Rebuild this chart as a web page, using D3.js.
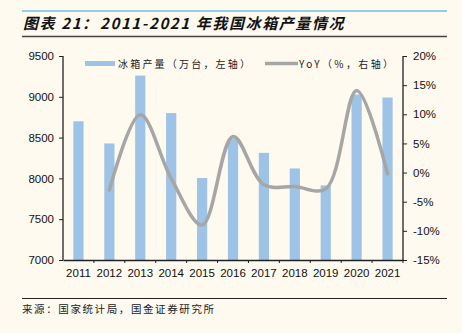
<!DOCTYPE html>
<html><head><meta charset="utf-8">
<script src="https://cdn.jsdelivr.net/npm/d3@7"></script>
<style>
body{margin:0;background:#FEFAF0;}
svg{display:block;}
</style></head>
<body><svg id="c" width="462" height="333"></svg>
<script>
const years = ["2011","2012","2013","2014","2015","2016","2017","2018","2019","2020","2021"];
const production = [8700, 8428, 9260, 8800, 8005, 8490, 8313, 8122, 7914, 9028, 8991];
const yoyYears = ["2012","2013","2014","2015","2016","2017","2018","2019","2020","2021"];
const yoy = [-3.0, 9.9, -1.0, -9.0, 6.2, -2.1, -2.4, -2.8, 14.1, -0.2];
const leftTicks = [7000, 7500, 8000, 8500, 9000, 9500];
const rightTicks = [-15, -10, -5, 0, 5, 10, 15, 20];
const titlePrefix = "图表 21：";
const titleMain = "2011-2021 年我国冰箱产量情况";
const legendBar = "冰箱产量（万台，左轴）";
const legendLine = "YoY（%，右轴）";
const sourceText = "来源：国家统计局，国金证券研究所";

const svg = d3.select("#c");
const font = "'Liberation Sans', Arial, sans-serif";
const cjk = "'Noto Sans CJK SC', sans-serif";

// header lines and title
svg.append("line").attr("x1",22).attr("x2",447).attr("y1",11).attr("y2",11).attr("stroke","#2AA0E0").attr("stroke-width",1);
const tt = svg.append("text").attr("x",23).attr("y",28.5)
  .attr("font-family",cjk).attr("font-size",15).attr("font-weight","bold").attr("font-style","italic").attr("fill","#111").attr("letter-spacing",1.6);
tt.append("tspan").text(titlePrefix);
tt.append("tspan").attr("x",100).text(titleMain);
svg.append("line").attr("x1",22).attr("x2",447).attr("y1",36.5).attr("y2",36.5).attr("stroke","#444").attr("stroke-width",1.5);

const L = 63, R = 403, T = 56, B = 260;
const x = d3.scaleBand().domain(years).range([L, R]).paddingInner(0.67).paddingOuter(0.335);
const yL = d3.scaleLinear().domain([7000, 9500]).range([B, T]);
const yR = d3.scaleLinear().domain([-15, 20]).range([B, T]);

// bars
svg.append("g").selectAll("rect").data(years).join("rect")
  .attr("x", d => x(d)).attr("width", x.bandwidth())
  .attr("y", (d,i) => yL(production[i])).attr("height", (d,i) => B - yL(production[i]))
  .attr("fill", "#9DC3E6");

// line
const line = d3.line().x((d,i) => x(yoyYears[i]) + x.bandwidth()/2).y(d => yR(d)).curve(d3.curveCatmullRom.alpha(0.5));
svg.append("path").datum(yoy).attr("d", line).attr("fill","none").attr("stroke","#A6A6A6").attr("stroke-width",3.5).attr("stroke-linecap","round");

// left axis
const gl = svg.append("g").attr("transform",`translate(${L},0)`)
  .call(d3.axisLeft(yL).tickValues(leftTicks).tickSize(4).tickPadding(5).tickFormat(d3.format("d")));
// right axis
const gr = svg.append("g").attr("transform",`translate(${R},0)`)
  .call(d3.axisRight(yR).tickValues(rightTicks).tickSize(4).tickPadding(6).tickFormat(d => d + "%"));
// bottom axis
const step = x.step();
const gb = svg.append("g").attr("transform",`translate(0,${B})`)
  .call(d3.axisBottom(x).tickSize(0).tickPadding(9));
gb.selectAll(".bnd").data(d3.range(1, years.length)).join("line").attr("class","bnd")
  .attr("x1", i => L + i*step).attr("x2", i => L + i*step).attr("y1",0).attr("y2",3).attr("stroke","#222");
gb.append("line").attr("x1",R).attr("x2",R).attr("y1",0).attr("y2",3).attr("stroke","#222");

[gl, gr, gb].forEach(g => {
  g.selectAll(".domain").attr("stroke","#222").attr("stroke-width",1.3);
  g.selectAll(".tick line").attr("stroke","#222");
  g.selectAll("text").attr("font-family",font).attr("font-size",11.5).attr("fill","#111");
});
gl.select(".domain").attr("d",`M0,${T}V${B}`);
gr.select(".domain").attr("d",`M0,${T}V${B}`);

// legend
svg.append("rect").attr("x",85).attr("y",61).attr("width",30).attr("height",5).attr("fill","#9DC3E6");
svg.append("text").attr("x",118).attr("y",67.5).text(legendBar).attr("font-family",cjk).attr("font-size",10).attr("letter-spacing",2.2).attr("fill","#222");
svg.append("line").attr("x1",265).attr("x2",298).attr("y1",63.5).attr("y2",63.5).attr("stroke","#A6A6A6").attr("stroke-width",3.5);
svg.append("text").attr("x",299).attr("y",67.5).text(legendLine).attr("font-family",cjk).attr("font-size",10).attr("letter-spacing",2.4).attr("fill","#222");

// source
svg.append("line").attr("x1",22).attr("x2",447).attr("y1",298.5).attr("y2",298.5).attr("stroke","#222").attr("stroke-width",1);
svg.append("text").attr("x",22).attr("y",313).text(sourceText).attr("font-family",cjk).attr("font-size",10.5).attr("letter-spacing",1.6).attr("fill","#222");
</script></body></html>
